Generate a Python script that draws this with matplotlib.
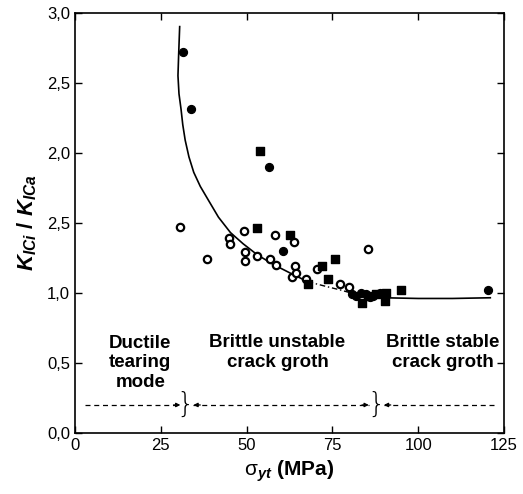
import matplotlib
matplotlib.use("Agg")
import matplotlib.pyplot as plt

plt.rcParams['font.family'] = ['Liberation Sans', 'DejaVu Sans']
plt.rcParams['mathtext.fontset'] = 'custom'
plt.rcParams['mathtext.rm'] = 'Liberation Sans'
plt.rcParams['mathtext.it'] = 'Liberation Sans:bold:italic'
plt.rcParams['mathtext.bf'] = 'Liberation Sans:bold'

# ---- data ----
open_x = [30.7, 38.6, 45.0, 45.3, 49.1, 49.4, 49.4, 52.9, 56.7, 58.4, 58.7, 63.7,
          64.0, 63.1, 64.3, 67.2, 70.4, 77.1, 79.7, 85.3]
open_y = [1.47, 1.24, 1.39, 1.35, 1.44, 1.29, 1.23, 1.26, 1.24, 1.41, 1.20, 1.36,
          1.19, 1.11, 1.14, 1.10, 1.17, 1.06, 1.04, 1.31]

fcirc_x = [31.5, 33.9, 56.4, 60.5, 120.3, 80.8, 82.0, 83.2, 84.7, 86.0, 86.8, 88.8]
fcirc_y = [2.72, 2.31, 1.90, 1.30, 1.02, 0.99, 0.98, 1.00, 0.99, 0.97, 0.98, 1.00]

fsq_x = [54.0, 52.9, 62.5, 75.9, 72.1, 73.6, 67.8, 83.5, 90.2, 94.9, 87.6, 90.5, 85.5]
fsq_y = [2.01, 1.46, 1.41, 1.24, 1.19, 1.10, 1.06, 0.93, 0.94, 1.02, 0.99, 1.00, 0.98]

curve_x = [30.5, 30.2, 30.0, 30.3, 30.9, 31.4, 32.1, 33.2, 34.6, 36.5, 38.9, 41.8,
           45.3, 49.0, 53.2, 58.0, 62.8, 67.8]
curve_y = [2.90, 2.70, 2.55, 2.42, 2.31, 2.20, 2.09, 1.97, 1.86, 1.76, 1.66, 1.54,
           1.43, 1.35, 1.27, 1.20, 1.14, 1.08]
dash_x = [67.8, 72.5, 77.4, 83.2]
dash_y = [1.08, 1.05, 1.02, 0.98]
flat_x = [83.2, 90.0, 100.0, 110.0, 121.0]
flat_y = [0.98, 0.965, 0.96, 0.96, 0.965]

yticks = [0.0, 0.5, 1.0, 1.5, 2.0, 2.5, 3.0]
ytick_labels = ['0,0', '0,5', '1,0', '2,5', '2,0', '2,5', '3,0']
xticks = [0, 25, 50, 75, 100, 125]

region_y = 0.2
arrows = [(2.9, 30.7), (34.5, 85.6), (90.0, 123.0)]  # (start, end) of dashed spans
left_heads = [False, True, True]
right_heads = [True, True, False]
brace_x = [32.1, 87.6]
labels = [("Ductile\ntearing\nmode", 19.0, 0.50),
          ("Brittle unstable\ncrack groth", 59.0, 0.575),
          ("Brittle stable\ncrack groth", 107.2, 0.575)]

fig = plt.figure(figsize=(5.23, 4.94), dpi=100)
ax = fig.add_axes([0.1434, 0.1235, 0.8203, 0.851])

ax.plot(curve_x, curve_y, color='black', lw=1.2)
ax.plot(dash_x, dash_y, color='black', lw=1.0, ls=(0, (4, 2, 1, 2)))
ax.plot(flat_x, flat_y, color='black', lw=1.2)

ax.scatter(open_x, open_y, s=28, facecolors='white', edgecolors='black', linewidths=1.6, zorder=3)
ax.scatter(fcirc_x, fcirc_y, s=32, marker='o', color='black', zorder=3)
ax.scatter(fsq_x, fsq_y, s=30, marker='s', color='black', zorder=3)

for (a, b), lh, rh in zip(arrows, left_heads, right_heads):
    ax.plot([a, b], [region_y, region_y], color='black', lw=0.9, ls=(0, (4, 3)))
    if rh:
        ax.annotate('', xy=(b, region_y), xytext=(b - 2, region_y),
                    arrowprops=dict(arrowstyle='-|>', color='black', lw=0.9,
                                    mutation_scale=6, shrinkA=0, shrinkB=0))
    if lh:
        ax.annotate('', xy=(a, region_y), xytext=(a + 2, region_y),
                    arrowprops=dict(arrowstyle='-|>', color='black', lw=0.9,
                                    mutation_scale=6, shrinkA=0, shrinkB=0))
for bx in brace_x:
    ax.text(bx, region_y, '}', ha='center', va='center', fontsize=20,
            fontweight='light', family='DejaVu Sans')

for txt, x, y in labels:
    ax.text(x, y, txt, ha='center', va='center', fontsize=13.5, fontweight='bold',
            linespacing=1.2)

ax.set_xlim(0, 125)
ax.set_ylim(0, 3.0)
ax.set_xticks(xticks)
ax.set_yticks(yticks)
ax.set_yticklabels(ytick_labels)
ax.tick_params(direction='in', top=True, right=True, labelsize=12, length=5, width=1)
for sp in ax.spines.values():
    sp.set_linewidth(1.2)

ax.set_xlabel(r'$\mathrm{\sigma}_{yt}$ (MPa)', fontsize=15, fontweight='bold', labelpad=4)
ax.set_ylabel(r'$K_{ICi}$ / $K_{ICa}$', fontsize=16, fontweight='bold', labelpad=6)

fig.savefig('out.png', dpi=100)
